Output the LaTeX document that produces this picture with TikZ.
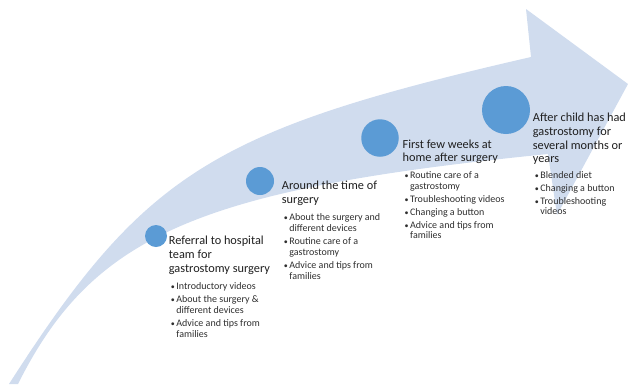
\documentclass[tikz,border=0pt]{standalone}
\usepackage{fontspec}
\setmainfont{Carlito}
\usetikzlibrary{positioning}

\definecolor{bandblue}{RGB}{208,220,238}
\definecolor{dotblue}{RGB}{91,155,213}
\newcommand{\itm}{\makebox[5.5pt][l]{\fontsize{8}{8}\selectfont\textbullet}}
\newcommand{\hang}{\hspace*{5.5pt}}

\begin{document}
\begin{tikzpicture}[x=1pt, y=-1pt,
        stage/.style={circle, fill=dotblue, inner sep=0pt},
        head/.style={align=left, inner sep=0pt, text=black!88, font=\fontsize{12.3}{13.7}\selectfont},
        items/.style={align=left, inner sep=0pt, text=black!82, font=\fontsize{10}{10.7}\selectfont}]
            \useasboundingbox (0,0) rectangle (628,384);
            \fill [bandblue] (9,384) .. controls (145,172) and (213,130) .. (531,57) -- (526,9) -- (628,84) -- (557,215) -- (548,154) .. controls (198.6,189) and (92.6,235) .. (18,384) -- cycle;
            \node [stage, minimum size=22pt] (c1) at (156,236) {};
            \node [stage, minimum size=28pt] (c2) at (260,181) {};
            \node [stage, minimum size=37.5pt] (c3) at (380,138) {};
            \node [stage, minimum size=48pt] (c4) at (506,110) {};
            \node [head, right = 1.5pt of c1, anchor=north west] (h1) {Referral to hospital\\team for\\gastrostomy surgery};
            \node [head, right = 7.5pt of c2, anchor=north west] (h2) {Around the time of\\surgery};
            \node [head, right = 3.5pt of c3, anchor=north west, yshift=-1.5pt] (h3) {First few weeks at\\home after surgery};
            \node [head, right = 2.5pt of c4, anchor=north west, yshift=-3pt] (h4) {After child has had\\gastrostomy for\\several months or\\years};
            \node [items, below = 8pt of h1.south west, anchor=north west, xshift=2pt] (b1) {\itm Introductory videos\\[2.3pt]\itm About the surgery \&\\\hang different devices\\[2.3pt]\itm Advice and tips from\\\hang families};
            \node [items, below = 8pt of h2.south west, anchor=north west, xshift=2pt] (b2) {\itm About the surgery and\\\hang different devices\\[2.3pt]\itm Routine care of a\\\hang gastrostomy\\[2.3pt]\itm Advice and tips from\\\hang families};
            \node [items, below = 7pt of h3.south west, anchor=north west, xshift=2pt] (b3) {\itm Routine care of a\\\hang gastrostomy\\[2.3pt]\itm Troubleshooting videos\\[2.3pt]\itm Changing a button\\[2.3pt]\itm Advice and tips from\\\hang families};
            \node [items, below = 6pt of h4.south west, anchor=north west, xshift=2pt] (b4) {\itm Blended diet\\[2.3pt]\itm Changing a button\\[2.3pt]\itm Troubleshooting\\\hang videos};
\end{tikzpicture}
\end{document}
